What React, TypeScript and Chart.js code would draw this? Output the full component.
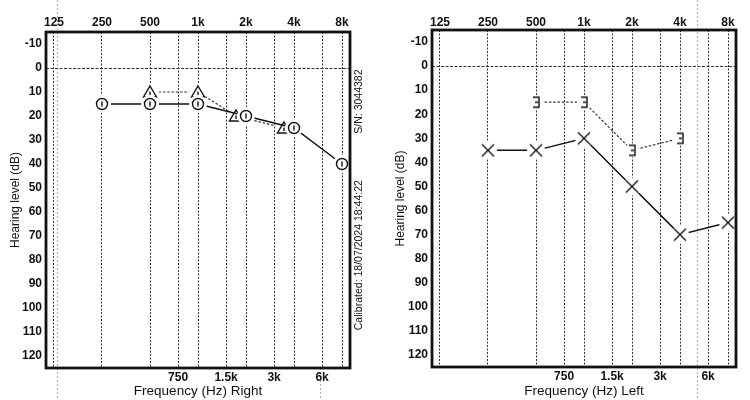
import React, { useEffect, useRef } from "react";
import { Chart, registerables } from "chart.js";

Chart.register(...registerables);

// ---- frequency / level scales ----
const octaveFreqs = [125, 250, 500, 1000, 2000, 4000, 8000];
const octaveLabels = ["125", "250", "500", "1k", "2k", "4k", "8k"];
const midFreqs = [750, 1500, 3000, 6000];
const midLabels = ["750", "1.5k", "3k", "6k"];
const levelTicks = [-10, 0, 10, 20, 30, 40, 50, 60, 70, 80, 90, 100, 110, 120];

// ---- right ear ----
const rightAirFreqs = [250, 500, 1000, 2000, 4000, 8000];
const rightAirLevels = [15, 15, 15, 20, 25, 40];
const rightBoneFreqs = [500, 1000, 2000, 4000];
const rightBoneLevels = [10, 10, 20, 25];

// ---- left ear ----
const leftAirFreqs = [250, 500, 1000, 2000, 4000, 8000];
const leftAirLevels = [35, 35, 30, 50, 70, 65];
const leftBoneFreqs = [500, 1000, 2000, 4000];
const leftBoneLevels = [15, 15, 35, 30];

const serialText = "S/N: 3044382";
const calibratedText = "Calibrated: 18/07/2024 18:44:22";

const FONT = "'Liberation Sans', Arial, Helvetica, sans-serif";
const INK = "#111";

const pairs = (xs: number[], ys: number[]) => xs.map((x, i) => ({ x, y: ys[i] }));

// Audiogram symbols drawn on a small canvas with a white halo, so the
// connecting lines stop just short of each symbol.
function makeMarker(kind: string): HTMLCanvasElement {
  const c = document.createElement("canvas");
  c.width = 24;
  c.height = 24;
  const g = c.getContext("2d")!;
  g.translate(12, 12);
  g.fillStyle = "#fff";
  g.beginPath();
  g.arc(0, 0, kind === "bracket" ? 7 : 9, 0, Math.PI * 2);
  g.fill();
  g.strokeStyle = INK;
  g.lineWidth = 1.4;
  g.beginPath();
  if (kind === "circle") {
    g.arc(0, 0, 5.5, 0, Math.PI * 2);
    g.moveTo(0, -2.5);
    g.lineTo(0, 2.5);
  } else if (kind === "triangle") {
    g.moveTo(0, -6);
    g.lineTo(6.5, 5);
    g.lineTo(-6.5, 5);
    g.closePath();
    g.moveTo(0, -0.5);
    g.lineTo(0, 3);
  } else if (kind === "cross") {
    g.moveTo(-6, -6);
    g.lineTo(6, 6);
    g.moveTo(6, -6);
    g.lineTo(-6, 6);
  } else if (kind === "bracket") {
    g.moveTo(-3, -5);
    g.lineTo(3, -5);
    g.lineTo(3, 5);
    g.lineTo(-3, 5);
    g.moveTo(-1, 0);
    g.lineTo(2, 0);
  }
  g.stroke();
  return c;
}

// Nudge a symbol sideways when it sits on the same frequency and level as
// a symbol from another series.
const overlapShift = {
  id: "overlapShift",
  afterDatasetsUpdate(chart: any) {
    const sets = chart.data.datasets;
    sets.forEach((ds: any, i: number) => {
      if (!ds.overlapShift) return;
      const meta = chart.getDatasetMeta(i);
      ds.data.forEach((p: any, j: number) => {
        const clash = sets.some(
          (other: any, k: number) =>
            k !== i && other.data.some((q: any) => q.x === p.x && q.y === p.y)
        );
        if (clash && meta.data[j]) meta.data[j].x += ds.overlapShift;
      });
    });
  },
};

// Heavy frame around the plotting area.
const frame = {
  id: "frame",
  afterDraw(chart: any) {
    const { ctx, chartArea: a } = chart;
    ctx.save();
    ctx.strokeStyle = INK;
    ctx.lineWidth = 2.8;
    ctx.strokeRect(a.left, a.top, a.right - a.left, a.bottom - a.top);
    ctx.restore();
  },
};

// Vertical notes printed beside the right-ear grid.
const sideNotes = {
  id: "sideNotes",
  afterDraw(chart: any, _args: any, opts: any) {
    if (!opts || !opts.show) return;
    const { ctx, chartArea: a } = chart;
    ctx.save();
    ctx.fillStyle = INK;
    ctx.font = `10.5px ${FONT}`;
    ctx.textAlign = "center";
    ctx.textBaseline = "middle";
    const x = a.right + 9;
    const y = chart.scales.y;
    [
      [serialText, y.getPixelForValue(14)],
      [calibratedText, y.getPixelForValue(78)],
    ].forEach(([t, py]: any) => {
      ctx.save();
      ctx.translate(x, py);
      ctx.rotate(-Math.PI / 2);
      ctx.fillText(t, 0, 0);
      ctx.restore();
    });
    ctx.restore();
  },
};

// Faint fold creases in the paper.
const creases = {
  id: "creases",
  beforeDraw(chart: any, _args: any, opts: any) {
    const { ctx, height } = chart;
    ctx.save();
    ctx.strokeStyle = "rgba(90,90,90,0.5)";
    ctx.lineWidth = 1;
    ctx.setLineDash([2, 2]);
    (opts.lines || []).forEach((l: number[]) => {
      ctx.beginPath();
      ctx.moveTo(l[0] + 0.5, l[1] ?? 0);
      ctx.lineTo(l[0] + 0.5, l[2] ?? height);
      ctx.stroke();
    });
    ctx.restore();
  },
};

type Layout = {
  yWidth: number;
  padRight: number;
  topH: number;
  bottomH: number;
  topPad: number;
  yTitlePad: number;
  title: string;
  notes: boolean;
  creaseLines: number[][];
};

function buildConfig(datasets: any[], L: Layout): any {
  const xMin = 125 * Math.pow(2, -1 / 6);
  const xMax = 8000 * Math.pow(2, 1 / 6);
  const tickFont = { family: FONT, size: 12, weight: "bold" };
  const gridDots = { color: "#333", lineWidth: 1, drawTicks: false, tickLength: 0 };
  return {
    type: "scatter",
    data: { datasets },
    options: {
      responsive: false,
      devicePixelRatio: 1,
      animation: false,
      events: [],
      layout: { padding: { left: 0, right: L.padRight, top: 0, bottom: 0 } },
      plugins: {
        legend: { display: false },
        tooltip: { enabled: false },
        sideNotes: { show: L.notes },
        creases: { lines: L.creaseLines },
      },
      scales: {
        x: {
          type: "logarithmic",
          position: "top",
          min: xMin,
          max: xMax,
          afterBuildTicks: (s: any) => {
            s.ticks = octaveFreqs.map((v) => ({ value: v }));
          },
          afterFit: (s: any) => {
            s.height = L.topH;
          },
          ticks: {
            autoSkip: false,
            maxRotation: 0,
            padding: L.topPad,
            color: INK,
            font: tickFont,
            callback: (_v: any, i: number) => octaveLabels[i],
          },
          grid: gridDots,
          border: { display: false, dash: [2, 1.5] },
        },
        x2: {
          type: "logarithmic",
          position: "bottom",
          min: xMin,
          max: xMax,
          afterBuildTicks: (s: any) => {
            s.ticks = midFreqs.map((v) => ({ value: v }));
          },
          afterFit: (s: any) => {
            s.height = L.bottomH;
          },
          ticks: {
            autoSkip: false,
            maxRotation: 0,
            padding: 2,
            color: INK,
            font: tickFont,
            callback: (_v: any, i: number) => midLabels[i],
          },
          grid: gridDots,
          border: { display: false, dash: [2, 1.5] },
          title: {
            display: true,
            text: L.title,
            color: INK,
            font: { family: FONT, size: 13.5 },
            padding: 1,
          },
        },
        y: {
          type: "linear",
          position: "left",
          reverse: true,
          min: -15,
          max: 125,
          afterBuildTicks: (s: any) => {
            s.ticks = levelTicks.map((v) => ({ value: v }));
          },
          afterFit: (s: any) => {
            s.width = L.yWidth;
          },
          ticks: { padding: 4, color: INK, font: tickFont },
          grid: {
            drawTicks: false,
            tickLength: 0,
            lineWidth: 1,
            color: (c: any) => (c.tick && c.tick.value === 0 ? "#333" : "rgba(0,0,0,0)"),
          },
          border: { display: false, dash: [3, 1.5] },
          title: {
            display: true,
            text: "Hearing level (dB)",
            color: INK,
            font: { family: FONT, size: 12 },
            padding: L.yTitlePad,
          },
        },
      },
    },
    plugins: [creases, overlapShift, frame, sideNotes],
  };
}

function series(data: any[], marker: HTMLCanvasElement, dashed: boolean, extra: any = {}) {
  return {
    data,
    showLine: true,
    tension: 0,
    borderColor: dashed ? "#333" : INK,
    borderWidth: dashed ? 1.2 : 1.5,
    borderDash: dashed ? [2.5, 1.8] : [],
    pointStyle: marker,
    pointRadius: 5,
    ...extra,
  };
}

function Panel({ make }: { make: () => any }) {
  const ref = useRef<HTMLCanvasElement>(null);
  useEffect(() => {
    const chart = new Chart(ref.current!, make());
    return () => chart.destroy();
  }, []);
  return (
    <canvas
      ref={ref}
      width={375}
      height={400}
      style={{ display: "block", width: 375, height: 400 }}
    />
  );
}

const makeRightEar = () =>
  buildConfig(
    [
      series(pairs(rightAirFreqs, rightAirLevels), makeMarker("circle"), false),
      series(pairs(rightBoneFreqs, rightBoneLevels), makeMarker("triangle"), true, {
        overlapShift: -10,
      }),
    ],
    {
      yWidth: 46,
      padRight: 25,
      topH: 32,
      bottomH: 32,
      topPad: 2,
      yTitlePad: 8,
      title: "Frequency (Hz) Right",
      notes: true,
      creaseLines: [[57], [320, 368, 400]],
    }
  );

const makeLeftEar = () =>
  buildConfig(
    [
      series(pairs(leftAirFreqs, leftAirLevels), makeMarker("cross"), false),
      series(pairs(leftBoneFreqs, leftBoneLevels), makeMarker("bracket"), true),
    ],
    {
      yWidth: 57,
      padRight: 14,
      topH: 30,
      bottomH: 33,
      topPad: 0,
      yTitlePad: 18,
      title: "Frequency (Hz) Left",
      notes: false,
      creaseLines: [[322]],
    }
  );

export default function App() {
  return (
    <div
      style={{
        position: "absolute",
        left: 0,
        top: 0,
        width: 750,
        height: 400,
        display: "flex",
        background: "#fff",
      }}
    >
      <Panel make={makeRightEar} />
      <Panel make={makeLeftEar} />
    </div>
  );
}
